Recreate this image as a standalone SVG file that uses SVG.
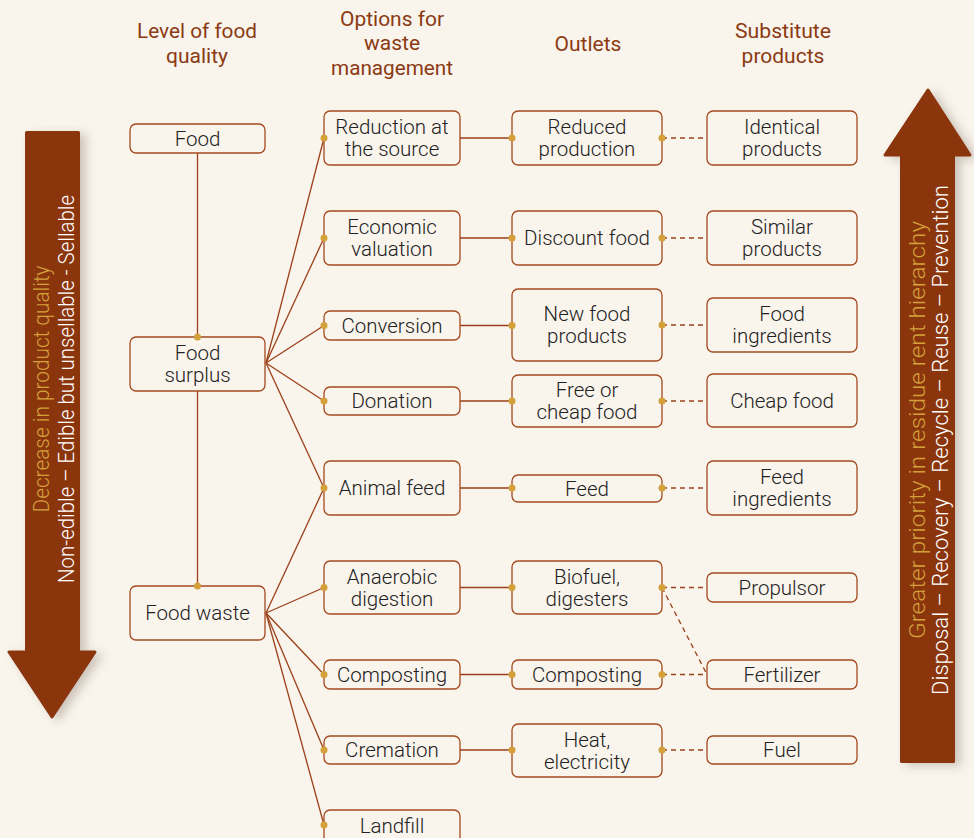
<svg xmlns="http://www.w3.org/2000/svg" width="974" height="838" viewBox="0 0 974 838">
<defs>
<filter id="sh" x="-50%" y="-10%" width="200%" height="120%">
<feDropShadow dx="6" dy="3" stdDeviation="5" flood-color="#5a4a3a" flood-opacity="0.28"/>
</filter>
<style>
.n rect{fill:#f9f4ec;stroke:#a44a1f;stroke-width:1.3}
.n text{font-family:Roboto,"Liberation Sans",sans-serif;font-size:20.5px;font-weight:300;fill:#222222;text-anchor:middle}
.h{font-family:Roboto,"Liberation Sans",sans-serif;font-size:21px;fill:#8b3a12;text-anchor:middle}
.s{fill:none;stroke:#9b4119;stroke-width:1.3}
.d{fill:none;stroke:#9b4119;stroke-width:1.3;stroke-dasharray:5 4}
.dot{fill:#d4a03a}
.ar{fill:#8b3611;stroke:#8b3611;stroke-width:3;stroke-linejoin:round}
.ag{font-family:Roboto,"Liberation Sans",sans-serif;font-size:22px;font-weight:300;fill:#d4a03a;text-anchor:middle}
.aw{font-family:Roboto,"Liberation Sans",sans-serif;font-size:22px;font-weight:300;fill:#ffffff;text-anchor:middle}
</style>
</defs>
<rect width="974" height="838" fill="#f9f4ec"/>

<g id="headers">
<text class="h" x="197" y="38" textLength="120" lengthAdjust="spacingAndGlyphs">Level of food</text>
<text class="h" x="197" y="63">quality</text>
<text class="h" x="392" y="26" textLength="104" lengthAdjust="spacingAndGlyphs">Options for</text>
<text class="h" x="392" y="50">waste</text>
<text class="h" x="392" y="75" textLength="122" lengthAdjust="spacingAndGlyphs">management</text>
<text class="h" x="588" y="51">Outlets</text>
<text class="h" x="783" y="38" textLength="96" lengthAdjust="spacingAndGlyphs">Substitute</text>
<text class="h" x="783" y="63">products</text>
</g>

<g id="arrow-left">
<path class="ar" filter="url(#sh)" d="M26.5,132.5 L78.5,132.5 L78.5,652 L95,652 L52,717 L9,652 L26.5,652 Z"/>
<text class="ag" transform="translate(49,389) rotate(-90)" textLength="247" lengthAdjust="spacingAndGlyphs">Decrease in product quality</text>
<text class="aw" transform="translate(74,389) rotate(-90)" textLength="388" lengthAdjust="spacingAndGlyphs">Non-edible – Edible but unsellable - Sellable</text>
</g>

<g id="arrow-right">
<path class="ar" filter="url(#sh)" d="M928,90 L970,155 L953.5,155 L953.5,761.5 L901.5,761.5 L901.5,155 L885,155 Z"/>
<text class="ag" transform="translate(925,430) rotate(-90)" textLength="418" lengthAdjust="spacingAndGlyphs">Greater priority in residue rent hierarchy</text>
<text class="aw" transform="translate(948,440) rotate(-90)" textLength="510" lengthAdjust="spacingAndGlyphs">Disposal – Recovery – Recycle – Reuse – Prevention</text>
</g>

<g id="connectors">
<line class="s" x1="197.5" y1="153" x2="197.5" y2="337"/>
<line class="s" x1="197.5" y1="391" x2="197.5" y2="586"/>
<line class="s" x1="266" y1="363" x2="324" y2="138"/>
<line class="s" x1="266" y1="363" x2="324" y2="238"/>
<line class="s" x1="266" y1="363" x2="324" y2="325.5"/>
<line class="s" x1="266" y1="363" x2="324" y2="401"/>
<line class="s" x1="266" y1="363" x2="324" y2="488"/>
<line class="s" x1="266" y1="613" x2="324" y2="488"/>
<line class="s" x1="266" y1="613" x2="324" y2="587.5"/>
<line class="s" x1="266" y1="613" x2="324" y2="674.5"/>
<line class="s" x1="266" y1="613" x2="324" y2="750"/>
<line class="s" x1="266" y1="613" x2="324" y2="825"/>
<line class="s" x1="460" y1="138" x2="512" y2="138"/>
<line class="s" x1="460" y1="238" x2="512" y2="238"/>
<line class="s" x1="460" y1="325.5" x2="512" y2="325.5"/>
<line class="s" x1="460" y1="401" x2="512" y2="401"/>
<line class="s" x1="460" y1="488" x2="512" y2="488"/>
<line class="s" x1="460" y1="587.5" x2="512" y2="587.5"/>
<line class="s" x1="460" y1="674.5" x2="512" y2="674.5"/>
<line class="s" x1="460" y1="750" x2="512" y2="750"/>
<line class="d" x1="662" y1="138" x2="707" y2="138"/>
<line class="d" x1="662" y1="238" x2="707" y2="238"/>
<line class="d" x1="662" y1="325" x2="707" y2="325"/>
<line class="d" x1="662" y1="401" x2="707" y2="401"/>
<line class="d" x1="662" y1="488" x2="707" y2="488"/>
<line class="d" x1="662" y1="587.5" x2="707" y2="587.5"/>
<line class="d" x1="662" y1="587.5" x2="707" y2="674.5"/>
<line class="d" x1="662" y1="674.5" x2="707" y2="674.5"/>
<line class="d" x1="662" y1="750" x2="707" y2="750"/>
</g>

<g id="food" class="n"><rect x="130" y="124" width="135" height="29" rx="6"/><text x="197.5" y="145.5">Food</text></g>
<g id="food-surplus" class="n"><rect x="130" y="337" width="135" height="54" rx="6"/><text x="197.5" y="360">Food</text><text x="197.5" y="382">surplus</text></g>
<g id="food-waste" class="n"><rect x="130" y="586" width="135" height="54" rx="6"/><text x="197.5" y="620">Food waste</text></g>

<g id="reduction" class="n"><rect x="324" y="111" width="136" height="54" rx="6"/><text x="392" y="134">Reduction at</text><text x="392" y="156">the source</text></g>
<g id="economic" class="n"><rect x="324" y="211" width="136" height="54" rx="6"/><text x="392" y="234">Economic</text><text x="392" y="256">valuation</text></g>
<g id="conversion" class="n"><rect x="324" y="311" width="136" height="29" rx="6"/><text x="392" y="332.5">Conversion</text></g>
<g id="donation" class="n"><rect x="324" y="387" width="136" height="28" rx="6"/><text x="392" y="408">Donation</text></g>
<g id="animal-feed" class="n"><rect x="324" y="461" width="136" height="54" rx="6"/><text x="392" y="495">Animal feed</text></g>
<g id="anaerobic" class="n"><rect x="324" y="561" width="136" height="53" rx="6"/><text x="392" y="583.5">Anaerobic</text><text x="392" y="605.5">digestion</text></g>
<g id="composting-opt" class="n"><rect x="324" y="660" width="136" height="29" rx="6"/><text x="392" y="681.5">Composting</text></g>
<g id="cremation" class="n"><rect x="324" y="736" width="136" height="28" rx="6"/><text x="392" y="757">Cremation</text></g>
<g id="landfill" class="n"><rect x="324" y="810" width="136" height="34" rx="6"/><text x="392" y="833">Landfill</text></g>

<g id="reduced-production" class="n"><rect x="512" y="111" width="150" height="54" rx="6"/><text x="587" y="134">Reduced</text><text x="587" y="156">production</text></g>
<g id="discount-food" class="n"><rect x="512" y="211" width="150" height="54" rx="6"/><text x="587" y="245">Discount food</text></g>
<g id="new-food-products" class="n"><rect x="512" y="289" width="150" height="72" rx="6"/><text x="587" y="321">New food</text><text x="587" y="343">products</text></g>
<g id="free-cheap-food" class="n"><rect x="512" y="375" width="150" height="52" rx="6"/><text x="587" y="397">Free or</text><text x="587" y="419">cheap food</text></g>
<g id="feed" class="n"><rect x="512" y="475" width="150" height="27" rx="6"/><text x="587" y="495.5">Feed</text></g>
<g id="biofuel" class="n"><rect x="512" y="561" width="150" height="53" rx="6"/><text x="587" y="583.5">Biofuel,</text><text x="587" y="605.5">digesters</text></g>
<g id="composting-out" class="n"><rect x="512" y="660" width="150" height="29" rx="6"/><text x="587" y="681.5">Composting</text></g>
<g id="heat" class="n"><rect x="512" y="724" width="150" height="53" rx="6"/><text x="587" y="746.5">Heat,</text><text x="587" y="768.5">electricity</text></g>

<g id="identical" class="n"><rect x="707" y="111" width="150" height="54" rx="6"/><text x="782" y="134">Identical</text><text x="782" y="156">products</text></g>
<g id="similar" class="n"><rect x="707" y="211" width="150" height="54" rx="6"/><text x="782" y="234">Similar</text><text x="782" y="256">products</text></g>
<g id="food-ingredients" class="n"><rect x="707" y="298" width="150" height="54" rx="6"/><text x="782" y="321">Food</text><text x="782" y="343">ingredients</text></g>
<g id="cheap-food" class="n"><rect x="707" y="374" width="150" height="53" rx="6"/><text x="782" y="407.5">Cheap food</text></g>
<g id="feed-ingredients" class="n"><rect x="707" y="461" width="150" height="54" rx="6"/><text x="782" y="484">Feed</text><text x="782" y="506">ingredients</text></g>
<g id="propulsor" class="n"><rect x="707" y="573" width="150" height="29" rx="6"/><text x="782" y="594.5">Propulsor</text></g>
<g id="fertilizer" class="n"><rect x="707" y="660" width="150" height="29" rx="6"/><text x="782" y="681.5">Fertilizer</text></g>
<g id="fuel" class="n"><rect x="707" y="736" width="150" height="28" rx="6"/><text x="782" y="757">Fuel</text></g>

<g id="dots">
<circle class="dot" cx="197.5" cy="337" r="3.5"/>
<circle class="dot" cx="197.5" cy="586" r="3.5"/>
<circle class="dot" cx="324" cy="138" r="3.5"/>
<circle class="dot" cx="324" cy="238" r="3.5"/>
<circle class="dot" cx="324" cy="325.5" r="3.5"/>
<circle class="dot" cx="324" cy="401" r="3.5"/>
<circle class="dot" cx="324" cy="488" r="3.5"/>
<circle class="dot" cx="324" cy="587.5" r="3.5"/>
<circle class="dot" cx="324" cy="674.5" r="3.5"/>
<circle class="dot" cx="324" cy="750" r="3.5"/>
<circle class="dot" cx="324" cy="825" r="3.5"/>
<circle class="dot" cx="512" cy="138" r="3.5"/>
<circle class="dot" cx="512" cy="238" r="3.5"/>
<circle class="dot" cx="512" cy="325.5" r="3.5"/>
<circle class="dot" cx="512" cy="401" r="3.5"/>
<circle class="dot" cx="512" cy="488" r="3.5"/>
<circle class="dot" cx="512" cy="587.5" r="3.5"/>
<circle class="dot" cx="512" cy="674.5" r="3.5"/>
<circle class="dot" cx="512" cy="750" r="3.5"/>
<circle class="dot" cx="662" cy="138" r="3.5"/>
<circle class="dot" cx="662" cy="238" r="3.5"/>
<circle class="dot" cx="662" cy="325" r="3.5"/>
<circle class="dot" cx="662" cy="401" r="3.5"/>
<circle class="dot" cx="662" cy="488" r="3.5"/>
<circle class="dot" cx="662" cy="587.5" r="3.5"/>
<circle class="dot" cx="662" cy="674.5" r="3.5"/>
<circle class="dot" cx="662" cy="750" r="3.5"/>
</g>
</svg>
